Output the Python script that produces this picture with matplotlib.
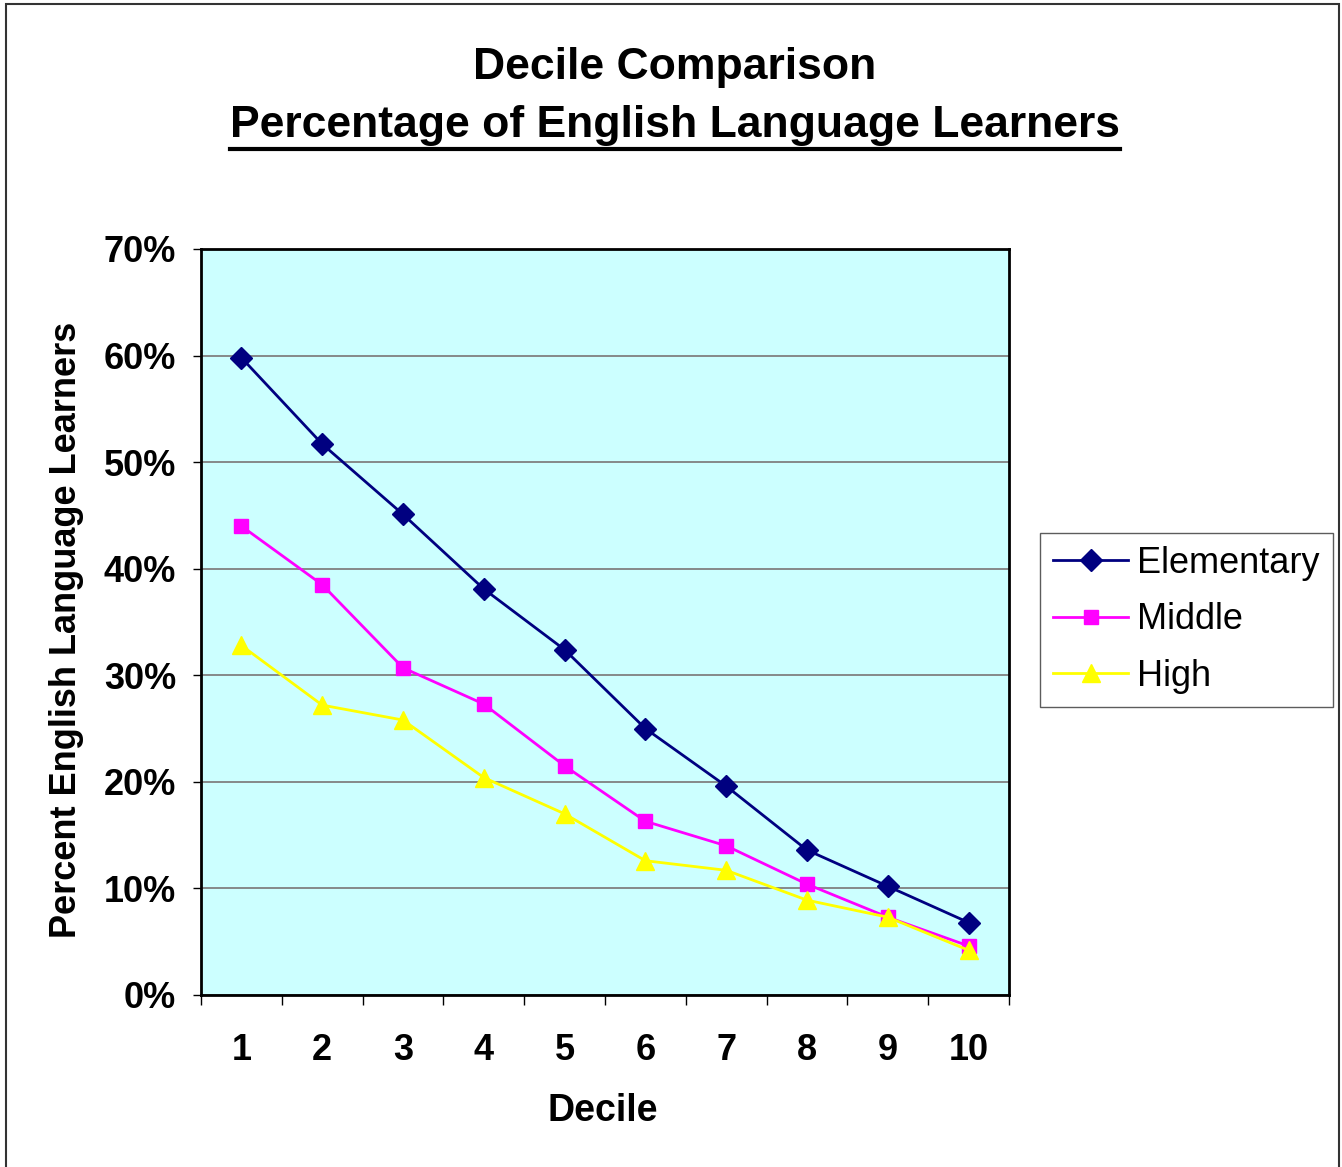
import matplotlib
matplotlib.use("Agg")
import matplotlib.pyplot as plt
from matplotlib.patches import Rectangle
from matplotlib.lines import Line2D
from matplotlib.ticker import FixedLocator, NullFormatter

plt.rcParams['font.family'] = ['Liberation Sans', 'DejaVu Sans']

# Podaci
decile = [1, 2, 3, 4, 5, 6, 7, 8, 9, 10]
elementary = [59.8, 51.7, 45.1, 38.1, 32.4, 25.0, 19.6, 13.6, 10.2, 6.8]
middle = [44.0, 38.5, 30.7, 27.3, 21.5, 16.3, 14.0, 10.4, 7.3, 4.6]
high = [32.8, 27.2, 25.8, 20.4, 17.0, 12.6, 11.7, 8.9, 7.3, 4.2]
y_ticks = [0, 10, 20, 30, 40, 50, 60, 70]

W, H = 1342, 1167
fig = plt.figure(figsize=(W / 100, H / 100), dpi=100)

# Okvir oko slike
fig.patches.append(Rectangle((6 / W, -0.01), 1333 / W, 1 - 4 / H + 0.01,
                             transform=fig.transFigure, fill=False,
                             edgecolor="#333333", linewidth=1.5))

ax = fig.add_axes([201 / W, 172 / H, 808 / W, 746 / H])
ax.set_facecolor("#CCFFFF")

ax.plot(decile, elementary, color="#000080", marker="D", markersize=11,
        linewidth=2, label="Elementary", zorder=5)
ax.plot(decile, middle, color="#FF00FF", marker="s", markersize=10.5,
        linewidth=2, label="Middle", zorder=4)
ax.plot(decile, high, color="#FFFF00", marker="^", markersize=13,
        linewidth=2, label="High", zorder=6)

ax.set_xlim(0.5, 10.5)
ax.set_ylim(0, 70)
ax.set_yticks(y_ticks)
ax.set_yticklabels([f"{v}%" for v in y_ticks])
ax.yaxis.grid(True, color="#808080", linewidth=1.3)
ax.set_axisbelow(True)

# Kategorijska os: crtice izme휐u kategorija
ax.set_xticks(decile)
ax.set_xticklabels([str(d) for d in decile])
ax.tick_params(axis="x", which="major", length=0, pad=27)
ax.xaxis.set_minor_locator(FixedLocator([d - 0.5 for d in decile] + [10.5]))
ax.xaxis.set_minor_formatter(NullFormatter())
ax.tick_params(axis="x", which="minor", length=7, width=1, direction="out")
ax.tick_params(axis="y", length=6, width=1, direction="out", pad=12)

for lab in ax.get_xticklabels() + ax.get_yticklabels():
    lab.set_fontsize(26)
    lab.set_fontweight("bold")

for s in ax.spines.values():
    s.set_linewidth(2)
    s.set_color("black")

fig.text(67 / W, 1 - 630 / H, "Percent English Language Learners",
         rotation=90, ha="center", va="center", fontsize=26, fontweight="bold")
fig.text(603 / W, 1 - 1111 / H, "Decile", ha="center", va="center",
         fontsize=27, fontweight="bold")

# Naslov
fig.text(675 / W, 1 - 67 / H, "Decile Comparison", ha="center", va="center",
         fontsize=32, fontweight="bold")
t2 = fig.text(675 / W, 1 - 126 / H, "Percentage of English Language Learners",
              ha="center", va="center", fontsize=32, fontweight="bold")

leg = ax.legend(loc="upper left", bbox_to_anchor=(1040 / W, 1 - 533 / H),
                bbox_transform=fig.transFigure, borderaxespad=0,
                fontsize=26, frameon=True, fancybox=False,
                edgecolor="#333333", handlelength=2.1, handletextpad=0.25,
                labelspacing=0.6, borderpad=0.35)
leg.get_frame().set_linewidth(1)

# Podcrtavanje drugog reda naslova
fig.canvas.draw()
bb = t2.get_window_extent()
fig.lines.append(Line2D([bb.x0 / W, bb.x1 / W], [(H - 149) / H, (H - 149) / H],
                        transform=fig.transFigure, color="black", linewidth=3))

fig.savefig("out.png", dpi=100)
